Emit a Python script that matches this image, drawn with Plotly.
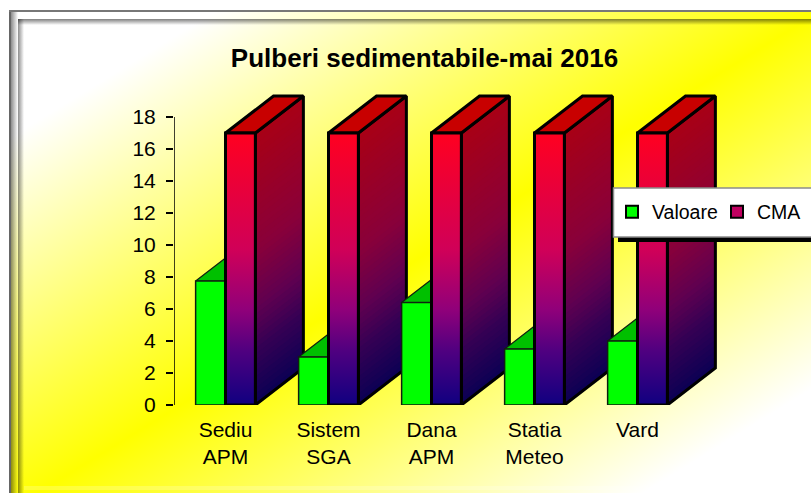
import base64
import plotly.graph_objects as go

categories = ["Sediu<br>APM", "Sistem<br>SGA", "Dana<br>APM", "Statia<br>Meteo", "Vard"]
valoare = [7.75, 3.0, 6.4, 3.5, 4.0]
cma = [17, 17, 17, 17, 17]
y_ticks = [0, 2, 4, 6, 8, 10, 12, 14, 16, 18]
title = "Pulberi sedimentabile-mai 2016"

W, H = 811, 493
FONT = "Liberation Sans"
L, R, T, B = 174, 800, 85, 405
CAT_PX = 103.0
UNIT_PX = 16.0
BAR = 0.29
DX = 0.466
DY = 2.31
GRAD = [(0.0, (16, 0, 128)), (0.2, (80, 0, 128)), (0.35, (144, 0, 122)),
        (0.57, (208, 0, 88)), (1.0, (255, 0, 32))]


def grad_color(t, k=1.0):
    for (a, ca), (b, cb) in zip(GRAD, GRAD[1:]):
        if t <= b:
            f = (t - a) / (b - a)
            c = [ca[i] + (cb[i] - ca[i]) * f for i in range(3)]
            break
    return "rgb(%d,%d,%d)" % tuple(round(v * k) for v in c)


def join(polys):
    xs, ys = [], []
    for p in polys:
        xs += [q[0] for q in p] + [p[0][0], None]
        ys += [q[1] for q in p] + [p[0][1], None]
    return xs, ys


def poly_trace(polys, fill=None, line="black", width=0, **kw):
    xs, ys = join(polys)
    return go.Scatter(x=xs, y=ys, mode="lines", fill="toself" if fill or "fillgradient" in kw else "none",
                      fillcolor=fill, line=dict(color=line, width=width, simplify=False, shape="linear"),
                      cliponaxis=False, showlegend=False, hoverinfo="skip", **kw)


fig = go.Figure()
pos = list(range(len(categories)))

# sheared gradient of the red side faces
N = 48
for s in range(N):
    polys = []
    for c, v in zip(pos, cma):
        lo, hi = v * s / N, v * (s + 1.6) / N
        hi = min(hi, v)
        polys.append([(c + BAR, lo), (c + BAR + DX, lo + DY), (c + BAR + DX, hi + DY), (c + BAR, hi)])
    fig.add_trace(poly_trace(polys, fill=grad_color((s + 0.5) / N, 0.66)))

# outline of the side + top of the red bars
fig.add_trace(poly_trace(
    [[(c + BAR, 0), (c + BAR + DX, DY), (c + BAR + DX, v + DY), (c + BAR, v)] for c, v in zip(pos, cma)],
    line="black", width=3))
fig.add_trace(poly_trace(
    [[(c, v), (c + BAR, v), (c + BAR + DX, v + DY), (c + DX, v + DY)] for c, v in zip(pos, cma)],
    fill="#C80000", line="black", width=3))

# green bars: only the part of the top face in front of the red bar is visible
fig.add_trace(poly_trace(
    [[(c - BAR, v), (c, v), (c, v + DY * BAR / DX)] for c, v in zip(pos, valoare)],
    fill="#00C000", line="#102010", width=1.2))
fig.add_trace(poly_trace(
    [[(c - BAR, 0), (c, 0), (c, v), (c - BAR, v)] for c, v in zip(pos, valoare)],
    fill="#00FF00", line="#102010", width=1.5))

# red front faces
fig.add_trace(poly_trace(
    [[(c, 0), (c + BAR, 0), (c + BAR, v), (c, v)] for c, v in zip(pos, cma)],
    line="black", width=3,
    fillgradient=dict(type="vertical",
                      colorscale=[[t, "rgb(%d,%d,%d)" % col] for t, col in GRAD])))

# value axis line stops at the last tick
fig.add_trace(go.Scatter(x=[-0.5, -0.5], y=[y_ticks[0], y_ticks[-1]], mode="lines",
                         line=dict(color="black", width=1.5), cliponaxis=False,
                         showlegend=False, hoverinfo="skip"))

# legend entries
fig.add_trace(go.Scatter(x=[None], y=[None], mode="markers", name="Valoare",
                         marker=dict(symbol="square", size=9, color="#00FF00",
                                     line=dict(color="black", width=2))))
fig.add_trace(go.Scatter(x=[None], y=[None], mode="markers", name="CMA",
                         marker=dict(symbol="square", size=9, color="#C00060",
                                     line=dict(color="black", width=5))))

svg = f"""<svg xmlns="http://www.w3.org/2000/svg" width="{W}" height="{H}" viewBox="0 0 {W} {H}">
<defs>
<linearGradient id="bg" gradientUnits="userSpaceOnUse" x1="20" y1="20" x2="452" y2="722">
<stop offset="0" stop-color="#ffffff"/><stop offset="0.115" stop-color="#ffffff"/>
<stop offset="0.5" stop-color="#ffff00"/><stop offset="0.885" stop-color="#ffffff"/><stop offset="1" stop-color="#ffffff"/></linearGradient>
<linearGradient id="l1" x1="0" x2="1" y1="0" y2="0"><stop offset="0" stop-color="#000" stop-opacity="0.45"/><stop offset="1" stop-color="#000" stop-opacity="0"/></linearGradient>
<linearGradient id="t1" x1="0" x2="0" y1="0" y2="1"><stop offset="0" stop-color="#000" stop-opacity="0.5"/><stop offset="1" stop-color="#000" stop-opacity="0"/></linearGradient>
</defs>
<rect x="9" y="10" width="{W}" height="{H}" fill="url(#bg)"/>
<rect x="11" y="12" width="7" height="{H}" fill="url(#l1)"/>
<rect x="18" y="19" width="6" height="{H}" fill="url(#l1)"/>
<rect x="18" y="19" width="{W}" height="6" fill="url(#t1)"/>
<rect x="9" y="10" width="2" height="{H}" fill="#666666"/>
<rect x="9" y="10" width="{W}" height="2" fill="#777777"/>
<rect x="24" y="486" width="{W}" height="4" fill="#ffffff" fill-opacity="0.2"/>
</svg>"""
bg_uri = "data:image/svg+xml;base64," + base64.b64encode(svg.encode()).decode()


def px(x):
    return (x - L) / (R - L)


def py(y):
    return (B - y) / (B - T)


shapes = [
    dict(type="rect", xref="paper", yref="paper", layer="above", x0=px(618), x1=px(830), y0=py(242), y1=py(230),
         fillcolor="black", line=dict(width=0)),
    dict(type="rect", xref="paper", yref="paper", layer="above", x0=px(613.5), x1=px(830), y0=py(237), y1=py(188),
         fillcolor="white", line=dict(color="#8c8c8c", width=1.5)),
]

fig.update_layout(
    width=W, height=H, autosize=False,
    margin=dict(l=L, r=W - R, t=T, b=H - B, pad=0, autoexpand=False),
    paper_bgcolor="white", plot_bgcolor="rgba(0,0,0,0)",
    font=dict(family=FONT, color="black", size=21),
    title=dict(text=f"<b>{title}</b>", x=424.5 / W, xref="container", xanchor="center",
               y=1 - 58 / H, yref="container", yanchor="middle", font=dict(family=FONT, size=26, color="black")),
    xaxis=dict(range=[-0.5, -0.5 + (R - L) / CAT_PX], tickmode="array", tickvals=pos, ticktext=categories,
               showgrid=False, zeroline=False, showline=False, ticks="", ticklabelstandoff=10,
               tickfont=dict(family=FONT, size=21, color="black")),
    yaxis=dict(range=[0, (B - T) / UNIT_PX], tickmode="array", tickvals=y_ticks, showgrid=False, zeroline=False,
               showline=False, ticks="outside", ticklen=7,
               tickwidth=1.5, tickcolor="black", ticklabelstandoff=6,
               tickfont=dict(family=FONT, size=21, color="black")),
    legend=dict(orientation="h", x=px(612), xanchor="left", y=py(212), yanchor="middle",
                entrywidth=60, entrywidthmode="pixels",
                bgcolor="rgba(0,0,0,0)", borderwidth=0,
                font=dict(family=FONT, size=19.5, color="black"), itemsizing="constant"),
    images=[dict(source=bg_uri, xref="paper", yref="paper", x=px(0), y=py(0), sizex=W / (R - L), sizey=H / (B - T),
                 xanchor="left", yanchor="top", sizing="stretch", layer="below")],
    shapes=shapes,
    hovermode=False,
)

fig.write_html("out.html", config={"displayModeBar": False},
               post_script="document.body.style.margin='0';document.documentElement.style.overflow='hidden';")
